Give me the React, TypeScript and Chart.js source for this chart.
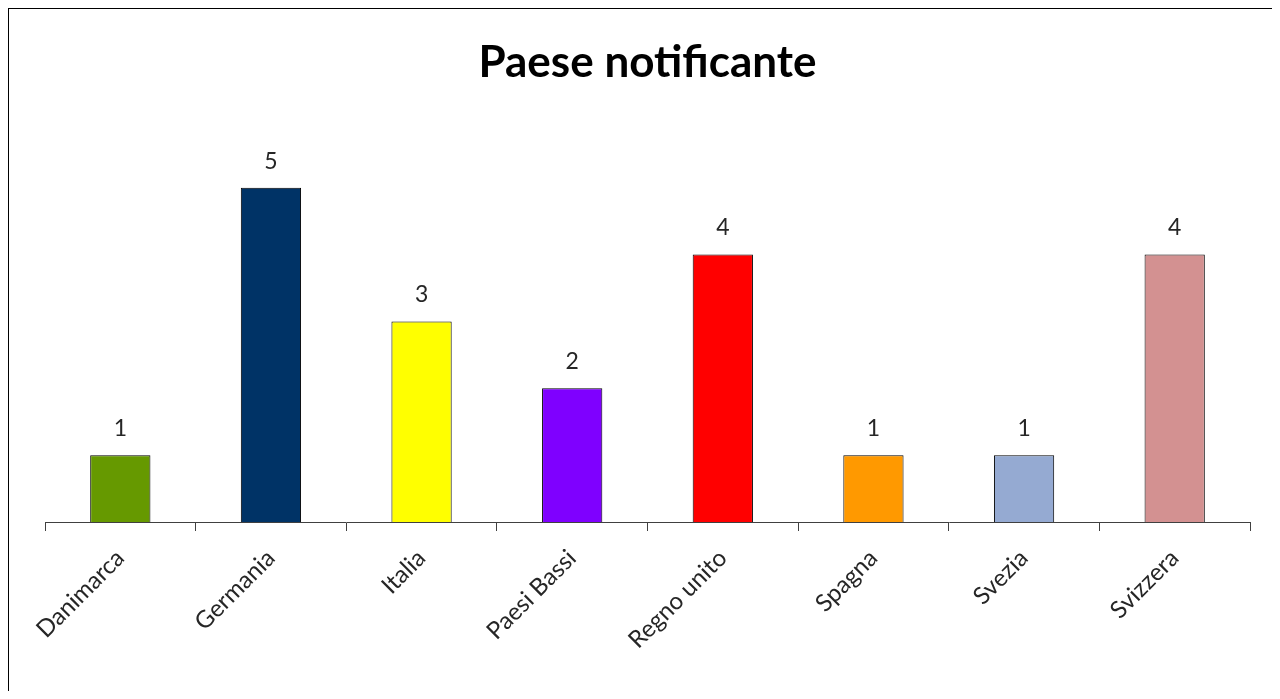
import React, { useEffect, useRef } from "react";
import { Chart, registerables } from "chart.js";

Chart.register(...registerables);

const categories = ["Danimarca", "Germania", "Italia", "Paesi Bassi", "Regno unito", "Spagna", "Svezia", "Svizzera"];
const counts = [1, 5, 3, 2, 4, 1, 1, 4];
const barColors = ["#669900", "#003366", "#FFFF00", "#7F00FF", "#FF0000", "#FF9900", "#95AAD2", "#D39191"];
const titleText = "Paese notificante";

const FONT = "Lato, 'Open Sans', sans-serif";

const valueLabels = {
  id: "valueLabels",
  afterDatasetsDraw(chart: any) {
    const ctx = chart.ctx;
    const meta = chart.getDatasetMeta(0);
    ctx.save();
    ctx.font = `23px ${FONT}`;
    ctx.fillStyle = "#262626";
    ctx.textAlign = "center";
    ctx.textBaseline = "bottom";
    meta.data.forEach((bar: any, i: number) => {
      ctx.fillText(String(counts[i]), bar.x, bar.y - 15);
    });
    ctx.restore();
  },
};

export default function App() {
  const ref = useRef<HTMLCanvasElement>(null);
  useEffect(() => {
    const chart = new Chart(ref.current!, {
      type: "bar",
      data: {
        labels: categories,
        datasets: [
          {
            data: counts,
            backgroundColor: barColors,
            borderColor: "#000000",
            borderWidth: 1,
            barPercentage: 0.4,
            categoryPercentage: 1,
          },
        ],
      },
      options: {
        animation: false,
        responsive: false,
        layout: { padding: { left: 36, right: 22, top: 0, bottom: 0 } },
        plugins: {
          legend: { display: false },
          tooltip: { enabled: false },
          title: {
            display: true,
            text: titleText,
            color: "#000000",
            font: { family: FONT, size: 44, weight: "bold" },
            padding: { top: 27, bottom: 32 },
          },
        },
        scales: {
          x: {
            grid: {
              offset: true,
              drawOnChartArea: false,
              tickLength: 9,
              tickColor: "#404040",
              lineWidth: 1,
            },
            border: { color: "#404040", width: 1 },
            ticks: {
              maxRotation: 45,
              minRotation: 45,
              padding: 13,
              color: "#262626",
              font: { family: FONT, size: 24 },
              autoSkip: false,
            },
            afterFit(scale: any) {
              scale.height = 169;
              scale.paddingLeft = 0;
              scale.paddingRight = 0;
            },
          },
          y: {
            display: false,
            min: 0,
            max: 6,
          },
        },
      },
      plugins: [valueLabels],
    });
    return () => chart.destroy();
  }, []);
  return (
    <div
      style={{
        width: 1264,
        height: 683,
        boxSizing: "border-box",
        borderTop: "1px solid #000",
        borderLeft: "1px solid #000",
        background: "#fff",
      }}
    >
      <canvas ref={ref} width={1263} height={682} style={{ display: "block" }} />
    </div>
  );
}
